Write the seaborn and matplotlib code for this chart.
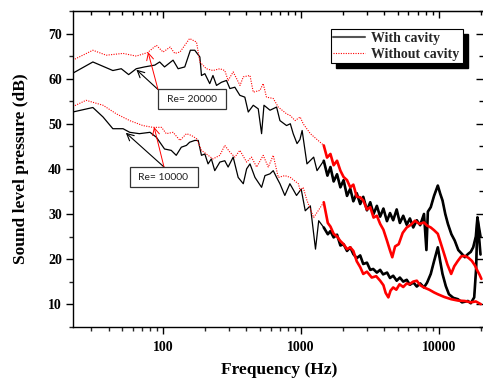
import matplotlib
matplotlib.use("Agg")
import matplotlib.pyplot as plt
import numpy as np
import pandas as pd
import seaborn as sns
from matplotlib.lines import Line2D
from matplotlib.patches import Rectangle
from matplotlib.ticker import FixedLocator, LogLocator, NullFormatter, MultipleLocator, FuncFormatter

# ---------------- data ----------------
bk20_f = [22, 30.8, 43, 49.5, 56, 63.6, 73, 86.6, 94, 102, 117.6, 128, 143, 157, 169, 184, 189, 200,
          217, 229, 243, 264, 287, 304, 330, 359, 390, 413, 449, 488, 516, 537, 594, 663, 701, 783,
          834, 875, 933, 979, 1016, 1101, 1232, 1303,
          1458, 1550, 1630, 1720, 1820, 1925, 2030, 2150, 2270, 2390, 2530, 2680, 2820, 3000, 3170,
          3350, 3540, 3740, 3950, 4190, 4410, 4650, 4930, 5200, 5500, 5830, 6150, 6500, 6900, 7300,
          7780, 8100, 8300, 8710, 9200, 9800, 10200, 10600, 11100, 11600, 12300, 13000, 13800,
          14700, 15400, 16200, 17000, 17700, 18500, 19000, 19500, 20000]
bk20_db = [61.2, 63.7, 61.8, 62.2, 60.9, 62.2, 62.6, 63.0, 63.7, 62.6, 64.1, 62.2, 62.6, 66.3, 66.3,
           64.8, 60.7, 61.1, 58.9, 60.7, 58.5, 59.2, 59.6, 57.8, 58.1, 56.3, 55.9, 52.6, 54.1, 53.3,
           47.8, 54.1, 53.0, 53.7, 50.7, 49.6, 50.0, 47.8, 45.6, 46.5, 48.5, 41.1, 42.6, 39.6,
           41.8, 38.5, 40.4, 37.2, 38.8, 35.9, 37.5, 34.0, 35.6, 32.8, 34.6, 32.2, 33.8, 30.8, 32.6,
           30.0, 31.8, 29.4, 31.2, 28.4, 30.2, 28.6, 31.0, 28.0, 29.6, 27.6, 29.0, 27.0, 28.6, 27.5,
           30.0, 22.0, 30.5, 31.5, 34.0, 36.3, 34.5, 33.0, 30.0, 27.8, 25.5, 24.1, 22.0,
           21.1, 20.4, 21.1, 21.6, 22.6, 25.0, 29.2, 27.0, 25.0]

rd20_f = [22, 30.8, 38.5, 51, 63.6, 77, 89, 99.5, 112, 121, 132, 155, 174, 184, 205, 229, 257, 279,
          295, 321, 360, 380, 425, 449, 502, 530, 560, 627, 682, 783, 834, 903, 983, 1034, 1165,
          1458, 1540, 1630, 1720, 1820, 1925, 2030, 2150, 2270, 2390, 2530, 2680, 2820, 3000, 3170,
          3350, 3540, 3740, 3950, 4190, 4400, 4580, 4800, 5100, 5450, 5830, 6250, 6700, 7200, 7780,
          8200, 8710, 9200, 9800, 10300, 10900, 11500, 12250, 12900, 13700, 14500, 15400, 16300,
          17300, 18200, 19000, 19700, 20300]
rd20_db = [64.1, 66.3, 65.2, 65.6, 65.0, 65.8, 67.4, 65.9, 67.0, 65.6, 65.9, 68.9, 68.1, 63.7, 62.2,
           61.8, 62.2, 61.8, 59.6, 61.5, 58.5, 60.4, 60.7, 57.0, 57.4, 58.9, 55.9, 55.6, 53.7, 52.2,
           51.8, 50.7, 51.5, 50.0, 47.8,
           45.2, 42.5, 43.3, 40.8, 41.8, 39.6, 38.2, 37.5, 35.9, 36.5, 33.8, 33.7, 33.0, 31.0, 31.5,
           29.2, 29.6, 27.8, 26.5, 24.1, 22.0, 20.4, 22.8, 23.3, 25.8, 27.0, 27.6, 28.5, 27.8, 28.1,
           27.4, 27.0, 26.4, 25.6, 23.5, 21.1, 18.8, 16.7, 18.4, 19.6, 20.6, 20.7, 20.3,
           19.6, 18.6, 17.4, 16.5, 15.6]

bk10_f = [22, 30.8, 36.5, 43, 51, 57, 67, 80, 89, 102, 114, 124, 135, 147, 155, 169, 179, 189, 200,
          211, 223, 236, 257, 279, 295, 321, 349, 380, 402, 425, 462, 516, 546, 594, 627, 663, 701,
          761, 828, 925, 1000, 1070, 1165, 1270, 1340,
          1458, 1560, 1630, 1720, 1820, 1925, 2030, 2150, 2270, 2390, 2530, 2680, 2820, 3000, 3170,
          3330, 3540, 3740, 3930, 4200, 4410, 4650, 4930, 5200, 5500, 5830, 6150, 6520, 6900, 7300,
          7780, 8200, 8710, 9200, 9800, 10200, 10600, 11200, 11800, 12700, 13700, 14700, 16200,
          17000, 18000, 18600, 19000, 19500, 20000]
bk10_db = [52.6, 53.6, 51.5, 48.9, 48.9, 48.1, 47.8, 48.1, 47.0, 44.4, 44.1, 43.0, 44.8, 45.2, 45.9,
           46.3, 46.3, 43.0, 43.3, 41.1, 42.2, 39.6, 41.5, 41.8, 40.4, 42.6, 38.1, 36.7, 40.0, 41.1,
           38.1, 35.9, 38.5, 38.9, 39.6, 38.1, 36.7, 34.1, 36.7, 34.1, 35.5, 30.7, 31.8, 22.2, 28.5,
           27.0, 25.5, 26.2, 24.8, 25.4, 23.0, 23.3, 21.8, 22.6, 21.1, 20.2, 20.8, 18.9, 19.2, 17.6,
           17.8, 17.0, 17.6, 16.6, 17.0, 15.8, 16.3, 15.2, 15.9, 15.0, 15.4, 14.3, 14.8, 13.9, 14.6,
           13.7, 14.8, 16.7, 19.5, 22.6, 19.5, 16.7, 14.0, 12.2, 11.4, 11.1, 10.4, 10.7,
           10.2, 11.5, 18.0, 29.2, 25.0, 21.0]

rd10_f = [22, 27.5, 36.5, 45.6, 57, 71, 84, 97, 105, 117.6, 132, 147, 160, 174, 189, 205, 229, 257,
          279, 304, 330, 359, 402, 436, 475, 530, 577, 627, 682, 761, 834, 954, 983, 1034, 1101,
          1232,
          1458, 1560, 1630, 1720, 1820, 1925, 2030, 2150, 2270, 2390, 2530, 2680, 2820, 3000, 3250,
          3500, 3740, 3950, 4100, 4290, 4450, 4650, 4900, 5170, 5500, 5830, 6080, 6500, 6900, 7300,
          7780, 8500, 9200, 9800, 10900, 12250, 13700, 15400, 17000, 18500, 20100]
rd10_db = [53.8, 55.2, 54.1, 52.2, 50.7, 49.6, 49.2, 49.2, 47.8, 48.1, 46.3, 47.8, 47.4, 46.7, 44.1,
           43.3, 42.2, 43.0, 45.2, 43.7, 42.6, 44.1, 41.5, 42.6, 40.4, 43.0, 40.4, 43.0, 38.1, 38.5,
           38.1, 36.7, 35.2, 35.9, 33.0,
           29.2,
           32.6, 28.0, 27.2, 25.6, 25.0, 24.0, 23.3, 22.2, 22.6, 21.8, 19.5, 18.2, 16.7, 17.2, 15.9,
           16.2, 15.2, 14.2, 12.5, 11.5, 13.0, 13.7, 13.2, 14.4, 13.8, 14.6, 14.4, 15.0, 15.2, 14.2,
           13.7, 13.2, 12.6, 12.2, 11.6, 11.1, 10.8, 10.7, 10.4, 10.6, 10.0]

series_labels = ["With cavity", "Without cavity"]
x_ticks = [100, 1000, 10000]
x_tick_labels = ["100", "1000", "10000"]
y_ticks = [10, 20, 30, 40, 50, 60, 70]
re_labels = ["Re= 20000", "Re= 10000"]

# ---------------- style ----------------
sns.set_style("ticks")
plt.rcParams["font.family"] = ["Liberation Serif", "DejaVu Serif"]
plt.rcParams["font.weight"] = "bold"

W, H = 483, 381
fig = plt.figure(figsize=(W / 100, H / 100), dpi=100)
ax_l, ax_r, ax_t, ax_b = 73, 483, 11, 326.7
ax = fig.add_axes([ax_l / W, 1 - ax_b / H, (ax_r - ax_l) / W, (ax_b - ax_t) / H])
ax.set_facecolor("white")
ax.set_xscale("log")

def frame(f, db, name, re):
    return pd.DataFrame({"freq": f, "spl": db, "curve": name, "re": re})

df = pd.concat([
    frame(bk20_f, bk20_db, series_labels[0], 20000),
    frame(bk10_f, bk10_db, series_labels[0], 10000),
    frame(rd20_f, rd20_db, series_labels[1], 20000),
    frame(rd10_f, rd10_db, series_labels[1], 10000),
], ignore_index=True)

styles = {
    series_labels[0]: dict(color="black", lw=0.9, linestyle="-"),
    series_labels[1]: dict(color="red", lw=0.8, linestyle=(0, (1, 1.2))),
}
thick = {series_labels[0]: ("black", 1.9), series_labels[1]: ("red", 1.9)}

for name in series_labels:
    for re in (20000, 10000):
        sub = df[(df["curve"] == name) & (df["re"] == re)]
        sns.lineplot(data=sub, x="freq", y="spl", ax=ax, estimator=None, sort=False,
                     legend=False, **styles[name])
        hi = sub[sub["freq"] >= 1400]
        c, w = thick[name]
        sns.lineplot(data=hi, x="freq", y="spl", ax=ax, estimator=None, sort=False,
                     legend=False, color=c, lw=w)

ax.set_xlim(22.1, 20850)
ax.set_ylim(5, 75)

ax.xaxis.set_major_locator(FixedLocator(x_ticks))
ax.xaxis.set_major_formatter(FuncFormatter(lambda v, p: x_tick_labels[x_ticks.index(int(round(v)))] if int(round(v)) in x_ticks else ""))
ax.xaxis.set_minor_locator(LogLocator(base=10, subs=np.arange(2, 10)))
ax.xaxis.set_minor_formatter(NullFormatter())
ax.yaxis.set_major_locator(FixedLocator(y_ticks))
ax.yaxis.set_minor_locator(MultipleLocator(5))

ax.tick_params(axis="both", which="major", direction="out", length=5, width=1, labelsize=10,
               top=False, right=False, color="black", labelcolor="black")
ax.tick_params(axis="both", which="minor", direction="out", length=3, width=1, top=False, right=False)
ax.tick_params(axis="x", which="major", pad=5)
ax.tick_params(axis="y", which="major", pad=3)
for lab in ax.get_xticklabels() + ax.get_yticklabels():
    lab.set_fontweight("bold")

for s in ["left", "bottom", "top"]:
    ax.spines[s].set_color("black")
    ax.spines[s].set_linewidth(1.0)
ax.spines["right"].set_visible(False)

# top and right inward ticks
secx = ax.secondary_xaxis("top")
secx.xaxis.set_major_locator(FixedLocator(x_ticks))
secx.xaxis.set_minor_locator(LogLocator(base=10, subs=np.arange(2, 10)))
secx.xaxis.set_minor_formatter(NullFormatter())
secx.tick_params(axis="x", which="major", direction="in", length=5, width=1, labeltop=False, color="black")
secx.tick_params(axis="x", which="minor", direction="in", length=3, width=1, color="black")
secx.spines["top"].set_color("black")

secy = ax.secondary_yaxis("right")
secy.yaxis.set_major_locator(FixedLocator(y_ticks))
secy.yaxis.set_minor_locator(MultipleLocator(5))
secy.tick_params(axis="y", which="major", direction="in", length=5, width=1, labelright=False, color="black")
secy.tick_params(axis="y", which="minor", direction="in", length=3, width=1, color="black")
secy.spines["right"].set_visible(False)

ax.set_xlabel("Frequency (Hz)", fontsize=12.5, fontweight="bold", color="black")
ax.set_ylabel("Sound level pressure (dB)", fontsize=12.5, fontweight="bold", color="black")
ax.xaxis.set_label_coords(0.5037, -0.112)
ax.yaxis.set_label_coords(-0.108, 0.5)

# annotations
def fx(px):
    return (px - ax_l) / (ax_r - ax_l)

def fy(py):
    return 1 - (py - ax_t) / (ax_b - ax_t)

boxes = [(158, 89, 226, 109, 167), (130, 167, 198, 187, 138)]
for (x0, y0, x1, y1, tx), lab in zip(boxes, re_labels):
    ax.add_patch(Rectangle((fx(x0), fy(y1)), fx(x1) - fx(x0), fy(y0) - fy(y1), transform=ax.transAxes,
                           fc="white", ec="#333333", lw=0.9, zorder=6))
    ax.text(fx(tx), fy((y0 + y1) / 2), lab, transform=ax.transAxes, ha="left", va="center",
            fontsize=7.5, family="Lato", fontweight="normal", color="#222222", zorder=7)

arrows = [
    ((63.7, 62.0), (fx(158), fy(89.5)), "black", 0.8),
    ((77.4, 65.9), (fx(158), fy(89.5)), "red", 0.7),
    ((53.4, 48.0), (fx(164), fy(167)), "black", 0.8),
    ((85.6, 49.3), (fx(164), fy(167)), "red", 0.7),
]
for head, tail, col, lw in arrows:
    ax.annotate("", xy=head, xycoords="data", xytext=tail, textcoords="axes fraction",
                arrowprops=dict(arrowstyle="->,head_length=0.5,head_width=0.25", color=col, lw=lw,
                                shrinkA=0, shrinkB=0), zorder=5)

# legend
handles = [Line2D([], [], color="#555555", lw=1.5),
           Line2D([], [], color="red", lw=0.8, linestyle=(0, (1, 1.2)))]
leg = ax.legend(handles, series_labels, loc="upper left", bbox_to_anchor=(fx(330.5), fy(29)),
                borderaxespad=0, fancybox=False, edgecolor="black", framealpha=1,
                prop=dict(family="Liberation Serif", weight="bold", size=10),
                handlelength=2.3, handletextpad=0.45, borderpad=0.2, labelspacing=0.2)
leg.get_frame().set_linewidth(0.8)
leg.set_zorder(10)

fig.canvas.draw()
bb = leg.get_window_extent()
shadow = Rectangle((bb.x0 + 5, bb.y0 - 5), bb.width, bb.height, transform=None,
                   fc="black", ec="black", zorder=9)
ax.add_artist(shadow)

fig.savefig("out.png", dpi=100, facecolor="white")
